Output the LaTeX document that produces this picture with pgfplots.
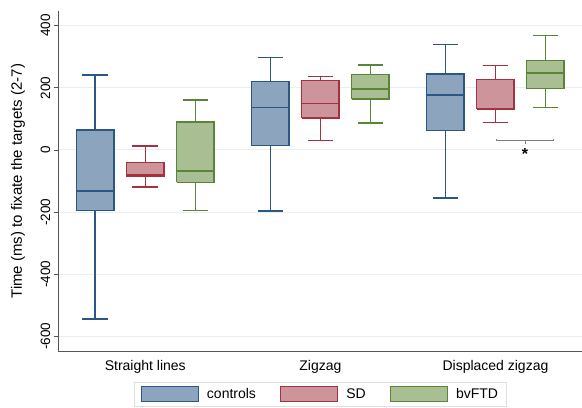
\documentclass[border=0pt]{standalone}
\usepackage{fontspec}
\setmainfont{Liberation Sans}
\usepackage{pgfplots}
\pgfplotsset{compat=1.18}
\definecolor{ctlF}{HTML}{8DA4BE}
\definecolor{ctlE}{HTML}{2B5785}
\definecolor{sdF}{HTML}{CD959B}
\definecolor{sdE}{HTML}{A5313E}
\definecolor{ftdF}{HTML}{A9BE93}
\definecolor{ftdE}{HTML}{5A8536}
\definecolor{gridc}{HTML}{E8EFF1}
\definecolor{axc}{HTML}{555555}
\pgfplotsset{
  ctl/.style={draw=ctlE, line width=1.5bp, mark=none, line join=miter},
  sd/.style={draw=sdE, line width=1.5bp, mark=none, line join=miter},
  ftd/.style={draw=ftdE, line width=1.5bp, mark=none, line join=miter},
}
\begin{document}
\begin{tikzpicture}
\begin{axis}[
  name=ax,
  scale only axis,
  width=523.3bp, height=341bp,
  xmin=-0.73, xmax=9.73,
  ymin=-649, ymax=448,
  axis x line*=bottom, axis y line*=left,
  axis line style={draw=axc, line width=0.9bp},
  xtick={1,4.5,8},
  xticklabels={Straight lines, Zigzag, Displaced zigzag},
  x tick style={draw=none},
  xticklabel style={font=\fontsize{14bp}{16bp}\selectfont, text=black},
  ytick={-600,-400,-200,0,200,400},
  y tick style={draw=axc, line width=0.9bp},
  tick align=outside,
  major tick length=5bp,
  yticklabel style={rotate=90, anchor=south, font=\fontsize{13.5bp}{16bp}\selectfont, text=black},
  /pgf/number format/assume math mode=true,
  ymajorgrids,
  grid style={draw=gridc, line width=1bp},
  ylabel={Time (ms) to fixate the targets (2-7)},
  ylabel style={font=\fontsize{15bp}{17bp}\selectfont, at={(axis description cs:0,0.5)}, anchor=center, yshift=40.7bp},
  unbounded coords=jump,
  legend columns=3,
  legend style={at={(axis description cs:0.5,0)}, anchor=north, yshift=-30bp,
    draw=gray!25, line width=0.6bp, font=\fontsize{14bp}{16bp}\selectfont,
    inner xsep=6bp, inner ysep=4bp,
    /tikz/every odd column/.append style={column sep=6bp},
    /tikz/every even column/.append style={column sep=22bp}},
]
% ---------- Straight lines ----------
% controls: lw -544, q1 -195, med -132, q3 64, uw 241
\addplot[ctl, fill=ctlF, forget plot] coordinates {(-0.375,-195) (0.375,-195) (0.375,64) (-0.375,64) (-0.375,-195)};
\addplot[ctl, forget plot] coordinates {(0,64) (0,241) (nan,nan) (-0.255,241) (0.255,241) (nan,nan) (0,-195) (0,-544) (nan,nan) (-0.255,-544) (0.255,-544) (nan,nan) (-0.375,-132) (0.375,-132)};
% SD: lw -119, q1 -84, med -80, q3 -41, uw 13
\addplot[sd, fill=sdF, forget plot] coordinates {(0.625,-84) (1.375,-84) (1.375,-41) (0.625,-41) (0.625,-84)};
\addplot[sd, forget plot] coordinates {(1,-41) (1,13) (nan,nan) (0.745,13) (1.255,13) (nan,nan) (1,-84) (1,-119) (nan,nan) (0.745,-119) (1.255,-119) (nan,nan) (0.625,-80) (1.375,-80)};
% bvFTD: lw -194, q1 -104, med -68, q3 90, uw 161
\addplot[ftd, fill=ftdF, forget plot] coordinates {(1.625,-104) (2.375,-104) (2.375,90) (1.625,90) (1.625,-104)};
\addplot[ftd, forget plot] coordinates {(2,90) (2,161) (nan,nan) (1.745,161) (2.255,161) (nan,nan) (2,-104) (2,-194) (nan,nan) (1.745,-194) (2.255,-194) (nan,nan) (1.625,-68) (2.375,-68)};
% ---------- Zigzag ----------
% controls: lw -196, q1 14, med 136, q3 221, uw 297
\addplot[ctl, fill=ctlF, forget plot] coordinates {(3.125,14) (3.875,14) (3.875,221) (3.125,221) (3.125,14)};
\addplot[ctl, forget plot] coordinates {(3.5,221) (3.5,297) (nan,nan) (3.245,297) (3.755,297) (nan,nan) (3.5,14) (3.5,-196) (nan,nan) (3.245,-196) (3.755,-196) (nan,nan) (3.125,136) (3.875,136)};
% SD: lw 30, q1 103, med 150, q3 224, uw 237
\addplot[sd, fill=sdF, forget plot] coordinates {(4.125,103) (4.875,103) (4.875,224) (4.125,224) (4.125,103)};
\addplot[sd, forget plot] coordinates {(4.5,224) (4.5,237) (nan,nan) (4.245,237) (4.755,237) (nan,nan) (4.5,103) (4.5,30) (nan,nan) (4.245,30) (4.755,30) (nan,nan) (4.125,150) (4.875,150)};
% bvFTD: lw 87, q1 164, med 196, q3 242, uw 273
\addplot[ftd, fill=ftdF, forget plot] coordinates {(5.125,164) (5.875,164) (5.875,242) (5.125,242) (5.125,164)};
\addplot[ftd, forget plot] coordinates {(5.5,242) (5.5,273) (nan,nan) (5.245,273) (5.755,273) (nan,nan) (5.5,164) (5.5,87) (nan,nan) (5.245,87) (5.755,87) (nan,nan) (5.125,196) (5.875,196)};
% ---------- Displaced zigzag ----------
% controls: lw -155, q1 62, med 176, q3 245, uw 340
\addplot[ctl, fill=ctlF, forget plot] coordinates {(6.625,62) (7.375,62) (7.375,245) (6.625,245) (6.625,62)};
\addplot[ctl, forget plot] coordinates {(7,245) (7,340) (nan,nan) (6.745,340) (7.255,340) (nan,nan) (7,62) (7,-155) (nan,nan) (6.745,-155) (7.255,-155) (nan,nan) (6.625,176) (7.375,176)};
% SD: lw 89, q1 132, med 133, q3 227, uw 272
\addplot[sd, fill=sdF, forget plot] coordinates {(7.625,132) (8.375,132) (8.375,227) (7.625,227) (7.625,132)};
\addplot[sd, forget plot] coordinates {(8,227) (8,272) (nan,nan) (7.745,272) (8.255,272) (nan,nan) (8,132) (8,89) (nan,nan) (7.745,89) (8.255,89) (nan,nan) (7.625,133) (8.375,133)};
% bvFTD: lw 136, q1 197, med 247, q3 288, uw 368
\addplot[ftd, fill=ftdF, forget plot] coordinates {(8.625,197) (9.375,197) (9.375,288) (8.625,288) (8.625,197)};
\addplot[ftd, forget plot] coordinates {(9,288) (9,368) (nan,nan) (8.745,368) (9.255,368) (nan,nan) (9,197) (9,136) (nan,nan) (8.745,136) (9.255,136) (nan,nan) (8.625,247) (9.375,247)};
% significance bracket
\draw[gray, line width=0.8bp] (axis cs:8.02,36) -- (axis cs:8.02,30) -- (axis cs:9.15,30) -- (axis cs:9.15,36);
\draw[gray, line width=0.8bp] (axis cs:8.59,30) -- (axis cs:8.59,19);
\node[font=\fontsize{16bp}{18bp}\selectfont\bfseries, inner sep=0pt] at (axis cs:8.59,-14) {*};
% legend
\addlegendimage{legend image code/.code={\draw[draw=ctlE, fill=ctlF, line width=1.3bp] (0bp,-7.5bp) rectangle (57bp,7.5bp);}}
\addlegendentry{controls}
\addlegendimage{legend image code/.code={\draw[draw=sdE, fill=sdF, line width=1.3bp] (0bp,-7.5bp) rectangle (57bp,7.5bp);}}
\addlegendentry{SD}
\addlegendimage{legend image code/.code={\draw[draw=ftdE, fill=ftdF, line width=1.3bp] (0bp,-7.5bp) rectangle (57bp,7.5bp);}}
\addlegendentry{bvFTD}
\end{axis}
\pgfresetboundingbox
\path ([shift={(-58.7bp,-56.3bp)}]ax.south west) rectangle ([shift={(0bp,10.7bp)}]ax.north east);
\end{tikzpicture}
\end{document}
